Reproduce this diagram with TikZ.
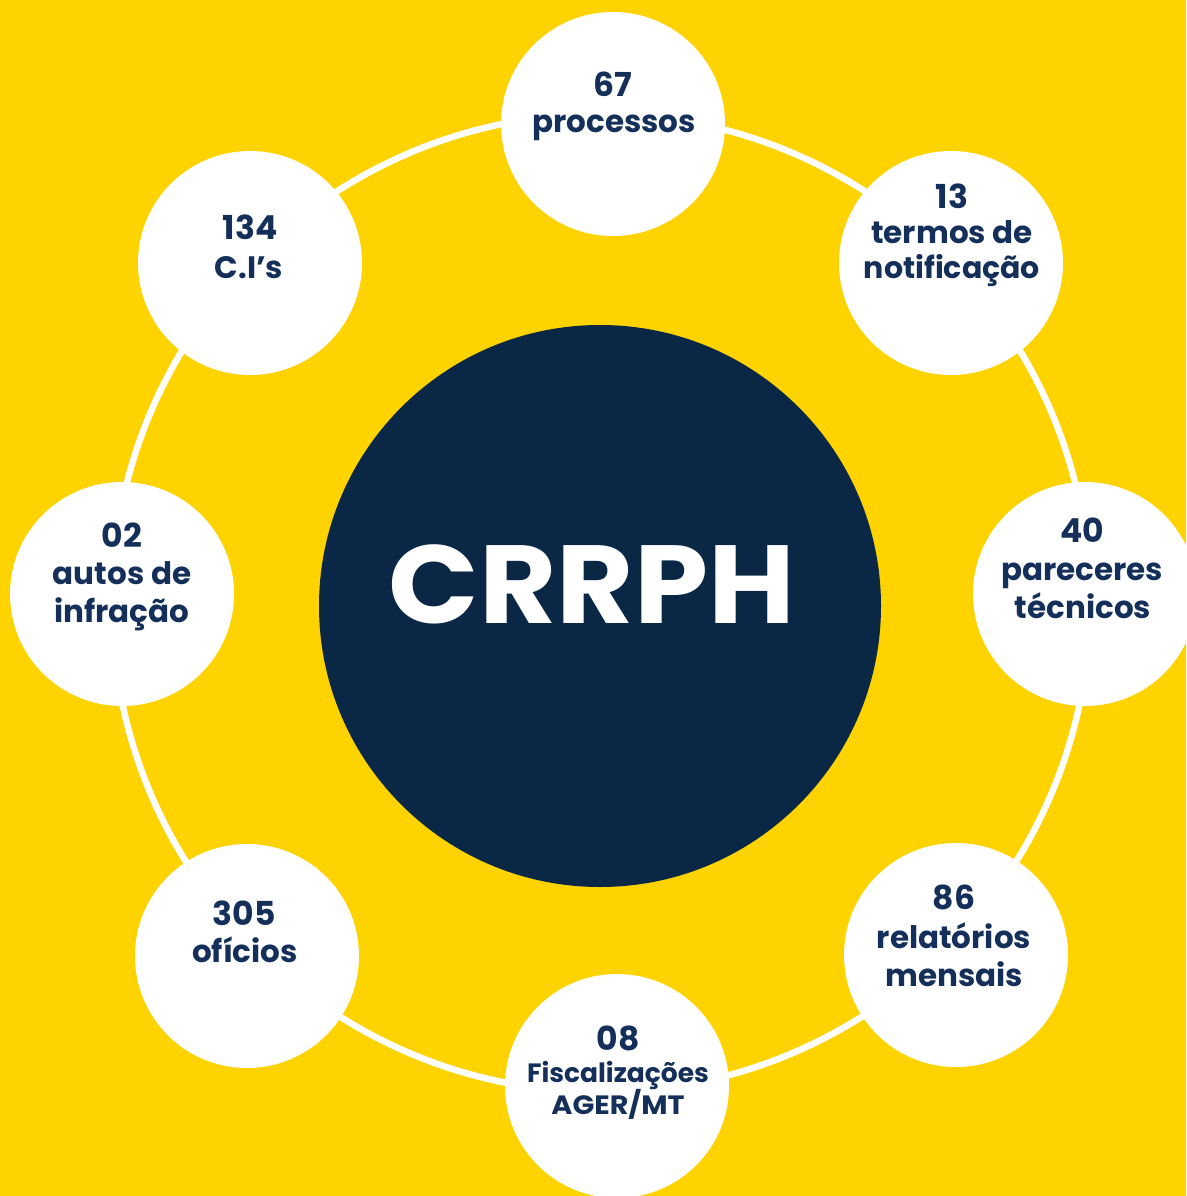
\documentclass[tikz,border=0pt]{standalone}
\usepackage{fontspec}
\setmainfont{Poppins}
\definecolor{bgyellow}{HTML}{FFD300}
\definecolor{navy}{HTML}{0A2846}
\definecolor{txtnavy}{HTML}{14305A}
\tikzset{
  stat/.style={circle, fill=white, draw=none, minimum size=224pt, inner sep=0pt},
  num/.style={anchor=base, text=txtnavy, inner sep=0pt, font=\fontsize{33}{33}\selectfont\bfseries},
  lbl/.style={anchor=base, text=txtnavy, inner sep=0pt, font=\fontsize{31}{31}\selectfont\bfseries},
  lbls/.style={anchor=base, text=txtnavy, inner sep=0pt, font=\fontsize{26.5}{26.5}\selectfont\bfseries},
}
\begin{document}
\begin{tikzpicture}[x=1pt,y=-1pt]
\useasboundingbox (0,0) rectangle (1186,1196);
\clip (0,0) rectangle (1186,1196);
\fill[bgyellow] (0,0) rectangle (1186,1196);
\coordinate (rc) at (601,603);
\draw[white, line width=6.5pt] (rc) circle (489);
\node[circle, fill=navy, minimum size=562pt, inner sep=0pt] (hub) at (600,606) {};
\node[anchor=base, text=white, inner sep=0pt, font=\fontsize{111}{111}\selectfont\bfseries] (hubt) at (592,623) {\scalebox{1.07}[1]{CRRPH}};
% satellites
\node[stat] (c1) at (613,124) {};
\node[stat] (c2) at (951,263) {};
\node[stat] (c3) at (1085,594) {};
\node[stat] (c4) at (956,955) {};
\node[stat] (c5) at (617,1086) {};
\node[stat] (c6) at (247,956) {};
\node[stat] (c7) at (122,594) {};
\node[stat] (c8) at (250,263) {};
% texts
\node[num] (t1a) at (613,97) {67};
\node[lbl] (t1b) at (614,132) {processos};
\node[num] (t2a) at (952,208) {13};
\node[lbl] (t2b) at (952,243) {termos de};
\node[lbl, font=\fontsize{30}{30}\selectfont\bfseries] (t2c) at (952,278) {notificação};
\node[num] (t3a) at (1082,542) {40};
\node[lbl] (t3b) at (1082,580) {pareceres};
\node[lbl] (t3c) at (1083,618) {técnicos};
\node[num] (t4a) at (954,909) {86};
\node[lbl] (t4b) at (954,948) {relatórios};
\node[lbl] (t4c) at (954,986) {mensais};
\node[num] (t5a) at (618,1050) {08};
\node[lbls] (t5b) at (618,1082) {Fiscalizações};
\node[lbls] (t5c) at (618,1114) {\scalebox{1.08}[1]{AGER/MT}};
\node[num] (t6a) at (244,925) {305};
\node[lbl] (t6b) at (245,962) {ofícios};
\node[num] (t7a) at (122,547) {02};
\node[lbl] (t7b) at (122,584) {autos de};
\node[lbl] (t7c) at (122,622) {infração};
\node[num] (t8a) at (250,239) {134};
\node[lbl] (t8b) at (249,278) {C.I’s};
\end{tikzpicture}
\end{document}
